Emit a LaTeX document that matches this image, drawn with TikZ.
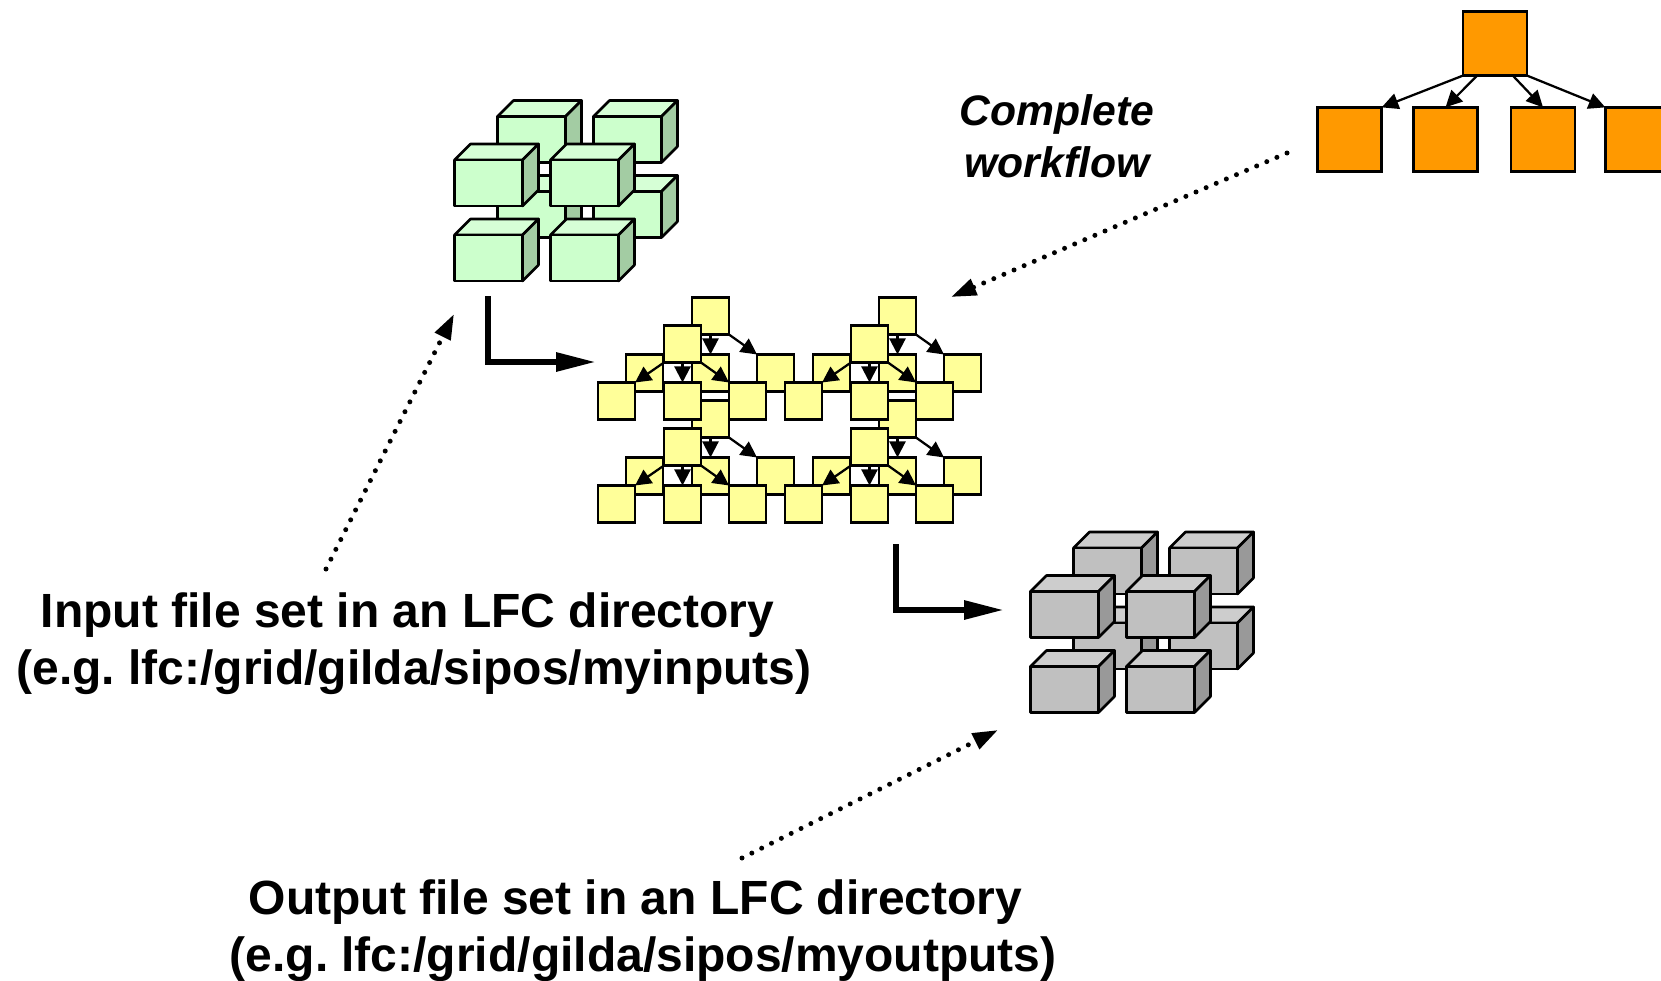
\documentclass[tikz,border=0pt]{standalone}
\usepackage{fontspec}
\setmainfont{Liberation Sans}
\frenchspacing
\usetikzlibrary{arrows.meta}
\definecolor{greenfront}{HTML}{CCFFCC}
\definecolor{greentop}{HTML}{D6FFD6}
\definecolor{greenside}{HTML}{A3CCA3}
\definecolor{grayfront}{HTML}{C0C0C0}
\definecolor{graytop}{HTML}{CDCDCD}
\definecolor{grayside}{HTML}{999999}
\definecolor{jobyellow}{HTML}{FFFF99}
\definecolor{joborange}{HTML}{FF9900}
\tikzset{
	job/.style={draw, line width=1.9pt, fill=jobyellow, minimum size=27.8pt, inner sep=0pt, outer sep=0pt},
	bigjob/.style={job, fill=joborange, minimum size=48.2pt},
	flow/.style={line width=1.7pt, -{Triangle[length=12pt,width=12pt]}},
	bigflow/.style={line width=1.7pt, -{Triangle[length=12.5pt,width=12pt]}},
	stage/.style={line width=4.5pt, -{Triangle[length=30pt,width=13.5pt]}},
	refer/.style={line width=3.75pt, line cap=round, dash pattern=on 0pt off 8.25pt, -{Triangle[length=19pt,width=12.5pt]}},
	caption/.style={font=\fontsize{36}{43}\selectfont\bfseries, align=center, inner sep=0pt},
	cube/.style={line width=1.9pt, line join=round}
}
\newcommand{\filecube}[4]{
	\fill[#3top, cube, draw=black] (#1,#2-46) -- ++(16,-16) -- ++(68,0) -- ++(-16,16) -- cycle;
	\fill[#3side, cube, draw=black] (#1+68,#2) -- ++(16,-16) -- ++(0,-46) -- ++(-16,16) -- cycle;
	\fill[#3front, cube, draw=black] (#1,#2) rectangle ++(68,-46);
}
\newcommand{\fileset}[3]{
	\foreach \dx/\dy in {43/-118.5, 139/-118.5, 43/-43.5, 139/-43.5, 0/-75, 96/-75, 0/0, 96/0}
		\filecube{#1+\dx}{#2+\dy}{#3}{};
}
\newcommand{\jobgroup}[3]{
	\node[job] (#1top) at (#2,#3) {};
	\node[job] (#1left) at (#2-66,#3+57) {};
	\node[job] (#1mid) at (#2,#3+57) {};
	\node[job] (#1right) at (#2+65,#3+57) {};
	\draw[flow] (#1top.south west) -- (#1left.north east);
	\draw[flow] (#1top.south) -- (#1mid.north);
	\draw[flow] (#1top.south east) -- (#1right.north west);
}
\begin{document}
\begin{tikzpicture}[x=0.75pt, y=-0.75pt]
	\useasboundingbox (0,0) rectangle (1661,981);
	\fileset{454.5}{281}{green}
	\fileset{1030.5}{712.5}{gray}
	\jobgroup{ba}{710.5}{316}
	\jobgroup{bb}{897.5}{316}
	\jobgroup{bc}{710.5}{419}
	\jobgroup{bd}{897.5}{419}
	\jobgroup{fa}{682.5}{344}
	\jobgroup{fb}{869.5}{344}
	\jobgroup{fc}{682.5}{447}
	\jobgroup{fd}{869.5}{447}
	\node[bigjob] (root) at (1495,43.5) {};
	\node[bigjob] (wfa) at (1349.5,139.5) {};
	\node[bigjob] (wfb) at (1445.5,139.5) {};
	\node[bigjob] (wfc) at (1543,139.5) {};
	\node[bigjob] (wfd) at (1637.5,139.5) {};
	\draw[bigflow] (root.south west) -- (wfa.north east);
	\draw[bigflow] (root.241) -- (wfb.north);
	\draw[bigflow] (root.299) -- (wfc.north);
	\draw[bigflow] (root.south east) -- (wfd.north west);
	\coordinate (instart) at (488,296);
	\coordinate (intip) at (596,362);
	\coordinate (outstart) at (896,544);
	\coordinate (outtip) at (1004,610);
	\draw[stage] (instart) |- (intip);
	\draw[stage] (outstart) |- (outtip);
	\coordinate (wfrom) at (1287,153);
	\coordinate (wto) at (951,297);
	\coordinate (ifrom) at (326,569);
	\coordinate (ito) at (454,314);
	\coordinate (ofrom) at (742,858);
	\coordinate (oto) at (998,730);
	\draw[refer] (wfrom) -- (wto);
	\draw[refer] (ifrom) -- (ito);
	\draw[refer] (ofrom) -- (oto);
	\node[caption, font=\fontsize{32}{39}\selectfont\bfseries\itshape] (wflabel) at (1057,136) {Complete\\workflow};
	\node[caption] (inlabel) at (414,643.5) {Input file set in an LFC directory\hspace*{9.6pt}\\(e.g. lfc:/grid/gilda/sipos/myinputs)};
	\node[caption] (outlabel) at (643,931) {Output file set in an LFC directory\hspace*{11pt}\\(e.g. lfc:/grid/gilda/sipos/myoutputs)};
\end{tikzpicture}
\end{document}
